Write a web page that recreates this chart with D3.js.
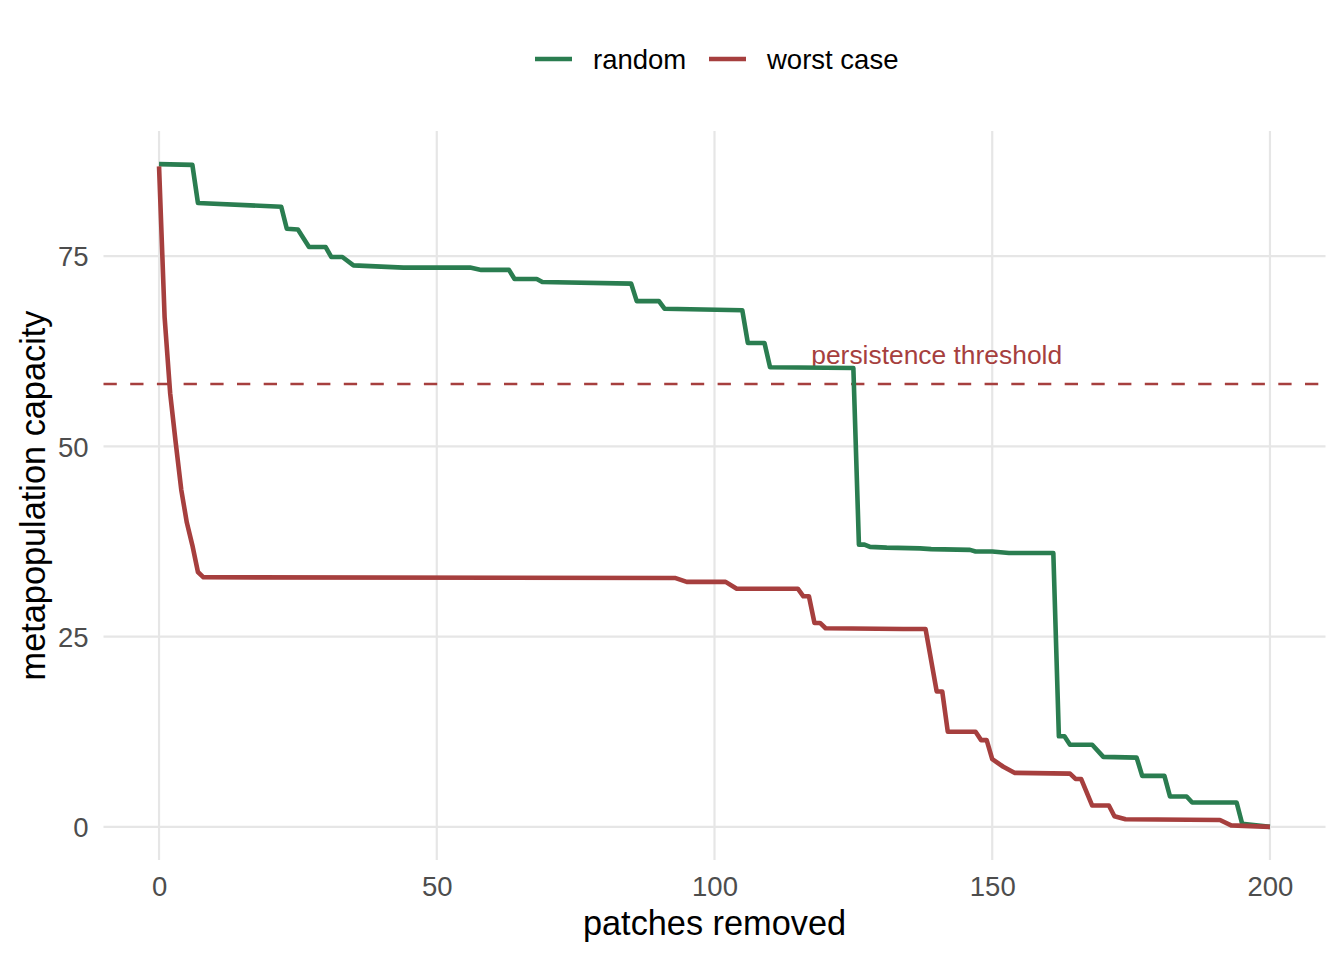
<!DOCTYPE html>
<html>
<head>
<meta charset="utf-8">
<script src="https://cdn.jsdelivr.net/npm/d3@7"></script>
<style>
  body { margin: 0; background: #fff; }
  svg text { font-family: "Liberation Sans", Arial, Helvetica, sans-serif; }
</style>
</head>
<body>
<div id="chart"></div>
<script>
// breakpoints of each curve (patches removed, capacity)
var randomX = [0, 6, 7, 22, 23, 25, 27, 30, 31, 33, 35, 44, 56, 58, 63, 64, 68, 69, 85, 86, 90, 91, 105, 106, 109, 110, 125, 126, 127, 128, 131, 137, 139, 146, 147, 150, 153, 161, 162, 163, 164, 168, 170, 176, 177, 181, 182, 185, 186, 194, 195, 200];
var randomY = [87.1, 87.0, 82.0, 81.5, 78.6, 78.5, 76.2, 76.2, 74.9, 74.9, 73.8, 73.5, 73.5, 73.2, 73.2, 72.0, 72.0, 71.6, 71.4, 69.1, 69.1, 68.1, 67.9, 63.6, 63.6, 60.4, 60.3, 37.1, 37.1, 36.8, 36.7, 36.6, 36.5, 36.4, 36.2, 36.2, 36.0, 36.0, 11.9, 11.9, 10.8, 10.8, 9.2, 9.1, 6.7, 6.7, 4.0, 4.0, 3.2, 3.2, 0.4, 0.0];

var worstX = [0, 1, 2, 3, 4, 5, 6, 7, 8, 93, 95, 102, 104, 115, 116, 117, 118, 119, 120, 134, 138, 140, 141, 142, 147, 148, 149, 150, 152, 154, 164, 165, 166, 168, 171, 172, 174, 191, 193, 200];
var worstY = [86.8, 67.0, 57.0, 50.5, 44.3, 40.0, 37.0, 33.5, 32.8, 32.7, 32.2, 32.2, 31.3, 31.3, 30.3, 30.3, 26.8, 26.8, 26.1, 26.0, 26.0, 17.8, 17.8, 12.5, 12.5, 11.4, 11.4, 8.9, 7.9, 7.1, 7.0, 6.3, 6.3, 2.8, 2.8, 1.4, 1.0, 0.9, 0.2, 0.0];

var seriesNames = ['random', 'worst case'];
var seriesColors = ['#2a7d50', '#a63f3e'];
var xTicks = [0, 50, 100, 150, 200];
var yTicks = [0, 25, 50, 75];
var threshold = 58.2;
var thresholdLabel = 'persistence threshold';
var thresholdLabelX = 140;
var thresholdLabelY = 60.8;

(function () {
    var width = 1344, height = 960;
    var left = 103.5, right = 1325.5, top = 131, bottom = 860;

    var svg = d3.select('#chart').append('svg')
        .attr('width', width)
        .attr('height', height);

    // ggplot style 5% expansion
    var xMin = d3.min(randomX.concat(worstX)), xMax = d3.max(randomX.concat(worstX));
    var yMin = d3.min(randomY.concat(worstY)), yMax = d3.max(randomY.concat(worstY));
    var xPad = (xMax - xMin) * 0.05, yPad = (yMax - yMin) * 0.05;

    var x = d3.scaleLinear().domain([xMin - xPad, xMax + xPad]).range([left, right]);
    var y = d3.scaleLinear().domain([yMin - yPad, yMax + yPad]).range([bottom, top]);

    // grid
    var grid = svg.append('g');
    grid.selectAll('.gx').data(xTicks).enter().append('line')
        .attr('x1', function (d) { return x(d); })
        .attr('x2', function (d) { return x(d); })
        .attr('y1', top).attr('y2', bottom)
        .attr('stroke', '#e6e6e6').attr('stroke-width', 2.2);
    grid.selectAll('.gy').data(yTicks).enter().append('line')
        .attr('y1', function (d) { return y(d); })
        .attr('y2', function (d) { return y(d); })
        .attr('x1', left).attr('x2', right)
        .attr('stroke', '#e6e6e6').attr('stroke-width', 2.2);

    // threshold
    svg.append('line')
        .attr('x1', left).attr('x2', right)
        .attr('y1', y(threshold)).attr('y2', y(threshold))
        .attr('stroke', seriesColors[1])
        .attr('stroke-width', 2.4)
        .attr('stroke-dasharray', '13.3,13.4');

    svg.append('text')
        .attr('x', x(thresholdLabelX))
        .attr('y', y(thresholdLabelY))
        .attr('text-anchor', 'middle')
        .attr('font-size', 26.4)
        .attr('fill', seriesColors[1])
        .text(thresholdLabel);

    var line = d3.line()
        .x(function (d) { return x(d[0]); })
        .y(function (d) { return y(d[1]); });

    var series = [d3.zip(randomX, randomY), d3.zip(worstX, worstY)];
    series.forEach(function (pts, i) {
        svg.append('path')
            .datum(pts)
            .attr('d', line)
            .attr('fill', 'none')
            .attr('stroke', seriesColors[i])
            .attr('stroke-width', 4.6)
            .attr('stroke-linejoin', 'round');
    });

    // axes (text only, like theme_minimal)
    var xAxis = svg.append('g')
        .attr('transform', 'translate(0,' + (bottom + 16) + ')')
        .call(d3.axisBottom(x).tickValues(xTicks).tickSize(0).tickPadding(0));
    xAxis.select('.domain').remove();
    xAxis.selectAll('text')
        .attr('font-size', 27.5)
        .attr('fill', '#4d4d4d')
        .attr('dy', '0.71em');

    var yAxis = svg.append('g')
        .attr('transform', 'translate(' + (left - 15) + ',0)')
        .call(d3.axisLeft(y).tickValues(yTicks).tickSize(0).tickPadding(0));
    yAxis.select('.domain').remove();
    yAxis.selectAll('text')
        .attr('font-size', 27.5)
        .attr('fill', '#4d4d4d')
        .attr('dy', '0.35em');

    svg.append('text')
        .attr('x', (left + right) / 2)
        .attr('y', 935)
        .attr('text-anchor', 'middle')
        .attr('font-size', 34.3)
        .attr('fill', '#000')
        .text('patches removed');

    svg.append('text')
        .attr('transform', 'translate(45,' + ((top + bottom) / 2) + ') rotate(-90)')
        .attr('text-anchor', 'middle')
        .attr('font-size', 34.3)
        .attr('fill', '#000')
        .text('metapopulation capacity');

    /* legend */
    var legendX = [535, 709];
    var legendY = 59;
    seriesNames.forEach(function (name, i) {
        var g = svg.append('g').attr('transform', 'translate(' + legendX[i] + ',' + legendY + ')');
        g.append('line')
            .attr('x1', 0).attr('x2', 37)
            .attr('y1', 0).attr('y2', 0)
            .attr('stroke', seriesColors[i])
            .attr('stroke-width', 4.6);
        g.append('text')
            .attr('x', 58)
            .attr('y', 9.5)
            .attr('font-size', 27.5)
            .attr('fill', '#000')
            .text(name);
    });
})();
</script>
</body>
</html>
